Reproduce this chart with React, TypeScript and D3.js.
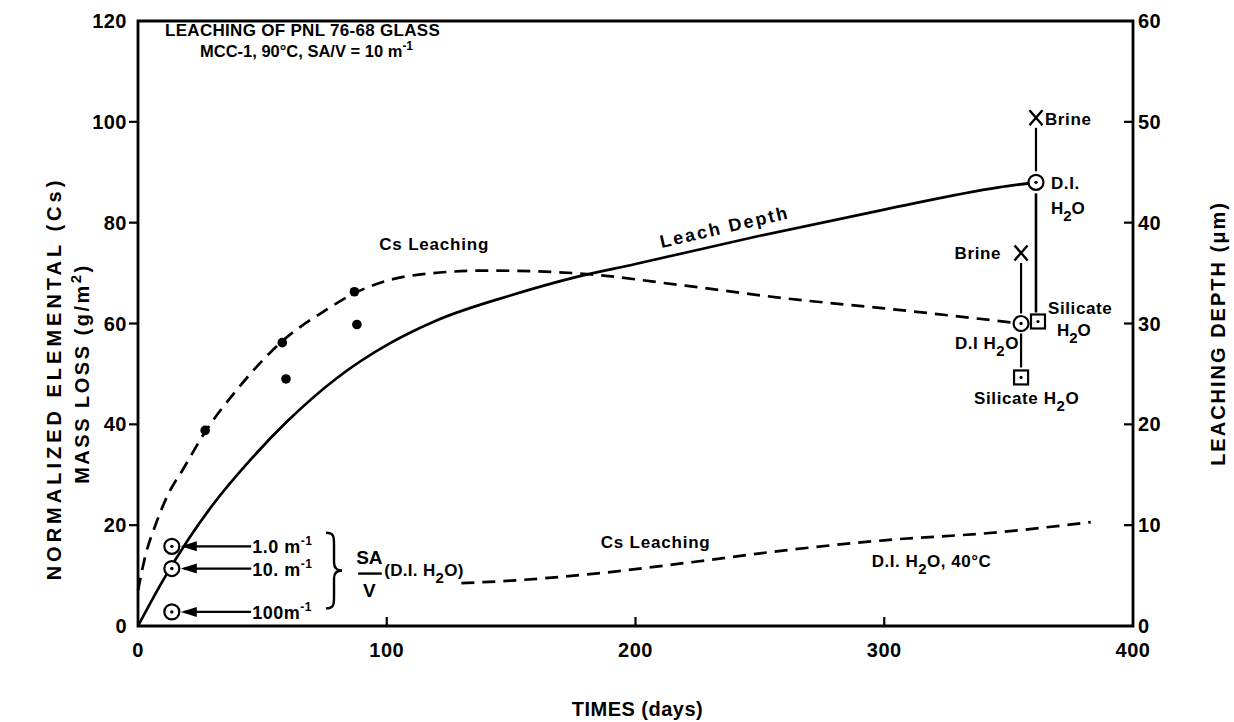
import React from 'react';
import * as d3 from 'd3';

// Cs leaching at 90C (normalized mass loss, g/m2) - dashed curve
const csDays90 = [0, 3, 7, 12, 18, 27, 40, 58, 75, 87, 110, 140, 175, 220, 260, 300, 355];
const csLoss90 = [7, 14, 20, 26, 31, 38.5, 47, 56.5, 62.5, 66, 69.5, 70.5, 70, 67.5, 65, 63, 60];

// measured Cs points
const dotDays = [27, 58, 59.5, 87, 88];
const dotLoss = [38.8, 56.2, 49, 66.3, 59.8];

// leach depth (um, right axis) - solid curve
const depthDays = [0, 10, 20, 30, 46, 60, 80, 101, 120, 150, 176, 200, 250, 300, 346, 361];
const depthUm = [0, 4.5, 8.5, 12, 16.7, 20.3, 24.6, 28, 30.3, 32.8, 34.6, 35.9, 38.7, 41.3, 43.5, 44];

// Cs leaching at 40C, D.I. H2O - lower dashed curve
const csDays40 = [130, 150, 186, 220, 260, 300, 346, 383];
const csLoss40 = [8.5, 9, 10.5, 12.5, 15, 17, 18.6, 20.6];

// SA/V points at ~14 days
const savLabels = ['1.0 m', '10. m', '100m'];
const savLoss = [15.8, 11.4, 2.8];
const savDay = 13.6;

// points at 355 days (Cs, left axis)
const csEndDay = 355;
const csBrine = 74;
const csDI = 60;
const csSilicate = 49.3;

// points at 361 days (depth, right axis)
const depthEndDay = 361;
const depthBrine = 50.4;
const depthDI = 44;
const depthSilicate = 30.2;

const xTicks = [0, 100, 200, 300, 400];
const yLeftTicks = [0, 20, 40, 60, 80, 100, 120];
const yRightTicks = [0, 10, 20, 30, 40, 50, 60];

const FONT = '"Liberation Sans", Arial, sans-serif';

const x = d3.scaleLinear().domain([0, 400]).range([138, 1133]);
const yL = d3.scaleLinear().domain([0, 120]).range([626, 21]);
const yR = d3.scaleLinear().domain([0, 60]).range([626, 21]);

const Sub = ({ children }: { children: string }) => (
  <tspan dy={7} fontSize={15}>{children}</tspan>
);

const DotCircle = ({ cx, cy }: { cx: number; cy: number }) => (
  <g>
    <circle cx={cx} cy={cy} r={7.5} fill="white" stroke="black" strokeWidth={2.2} />
    <circle cx={cx} cy={cy} r={1.7} fill="black" />
  </g>
);

const DotSquare = ({ cx, cy }: { cx: number; cy: number }) => (
  <g>
    <rect x={cx - 7} y={cy - 7} width={14} height={14} fill="white" stroke="black" strokeWidth={2.2} />
    <circle cx={cx} cy={cy} r={1.6} fill="black" />
  </g>
);

const Cross = ({ cx, cy }: { cx: number; cy: number }) => (
  <path
    d={`M${cx - 6.5},${cy - 7.5}L${cx + 6.5},${cy + 7.5}M${cx + 6.5},${cy - 7.5}L${cx - 6.5},${cy + 7.5}`}
    stroke="black"
    strokeWidth={2.4}
  />
);

export default function App() {
  const curve = d3.line<[number, number]>().curve(d3.curveMonotoneX);

  const cs90 = curve(csDays90.map((d, i) => [x(d), yL(csLoss90[i])]))!;
  const depth = curve(depthDays.map((d, i) => [x(d), yR(depthUm[i])]))!;
  const cs40 = curve(csDays40.map((d, i) => [x(d), yL(csLoss40[i])]))!;

  const x0 = x(0);
  const x1 = x(400);
  const y0 = yL(0);
  const y1 = yL(120);

  const sx = x(savDay);
  const ce = x(csEndDay);
  const de = x(depthEndDay);

  // brace spanning the three SA/V labels
  const bx = x(78);
  const bt = yL(18.5);
  const bb = yL(3.5);
  const bm = (bt + bb) / 2;
  const brace = `M${bx - 6},${bt} C${bx + 2},${bt} ${bx + 2},${bt + 4} ${bx + 2},${bt + 12} L${bx + 2},${bm - 8} C${bx + 2},${bm - 2} ${bx + 5},${bm} ${bx + 10},${bm} C${bx + 5},${bm} ${bx + 2},${bm + 2} ${bx + 2},${bm + 8} L${bx + 2},${bb - 12} C${bx + 2},${bb - 4} ${bx + 2},${bb} ${bx - 6},${bb}`;

  return (
    <svg width={1234} height={722} style={{ display: 'block', position: 'absolute', left: 0, top: 0 }} fontFamily={FONT} fontWeight="bold">
      <rect width={1234} height={722} fill="white" />

      {/* frame */}
      <path d={`M${x0},${y1}L${x1},${y1}L${x1},${y0}L${x0},${y0}Z`} fill="none" stroke="black" strokeWidth={2.8} />

      {/* left ticks (outward) */}
      {yLeftTicks.map(t => (
        <g key={'l' + t}>
          {t > 0 && t < 120 && <line x1={x0 - 9} x2={x0} y1={yL(t)} y2={yL(t)} stroke="black" strokeWidth={2.2} />}
          <text x={x0 - 11} y={yL(t) + 7} textAnchor="end" fontSize={20} letterSpacing={0.5}>{t}</text>
        </g>
      ))}

      {/* right ticks (inward) */}
      {yRightTicks.map(t => (
        <g key={'r' + t}>
          {t > 0 && t < 60 && <line x1={x1 - 9} x2={x1} y1={yR(t)} y2={yR(t)} stroke="black" strokeWidth={2.2} />}
          <text x={x1 + 5} y={yR(t) + 7} textAnchor="start" fontSize={20} letterSpacing={0.5}>{t}</text>
        </g>
      ))}

      {/* bottom ticks (inward) */}
      {xTicks.map(t => (
        <g key={'x' + t}>
          {t > 0 && t < 400 && <line x1={x(t)} x2={x(t)} y1={y0} y2={y0 - 9} stroke="black" strokeWidth={2.2} />}
          <text x={x(t)} y={y0 + 31} textAnchor="middle" fontSize={20} letterSpacing={0.5}>{t}</text>
        </g>
      ))}

      {/* axis titles */}
      <text transform={`translate(61,${(y0 + y1) / 2 + 55}) rotate(-90)`} textAnchor="middle" fontSize={20} letterSpacing={4}>
        NORMALIZED  ELEMENTAL  (Cs)
      </text>
      <text transform={`translate(89,${(y0 + y1) / 2 + 50}) rotate(-90)`} textAnchor="middle" fontSize={20} letterSpacing={2.5}>
        MASS  LOSS (g/m<tspan dy={-8} fontSize={15}>2</tspan><tspan dy={8}>)</tspan>
      </text>
      <text transform={`translate(1225,${(y0 + y1) / 2 + 10}) rotate(-90)`} textAnchor="middle" fontSize={20} letterSpacing={2}>
        LEACHING   DEPTH (μm)
      </text>
      <text x={(x0 + x1) / 2 + 2} y={716} textAnchor="middle" fontSize={20} letterSpacing={0.5}>TIMES (days)</text>

      {/* title */}
      <text x={165} y={36} fontSize={17} letterSpacing={0.3}>LEACHING OF PNL 76-68 GLASS</text>
      <text x={200} y={57} fontSize={16.5} letterSpacing={0}>
        MCC-1, 90°C, SA/V = 10 m<tspan dy={-7} fontSize={12}>-1</tspan>
      </text>

      {/* curves */}
      <path d={cs90} fill="none" stroke="black" strokeWidth={2.7} strokeDasharray="13 8" />
      <path d={depth} fill="none" stroke="black" strokeWidth={2.7} />
      <path d={cs40} fill="none" stroke="black" strokeWidth={2.7} strokeDasharray="13 8" />

      {/* measured dots */}
      {dotDays.map((d, i) => (
        <circle key={'d' + i} cx={x(d)} cy={yL(dotLoss[i])} r={4.8} fill="black" />
      ))}

      {/* curve labels */}
      <text x={x(97)} y={yL(74.5)} fontSize={17} letterSpacing={0.8}>Cs   Leaching</text>
      <text transform={`translate(${x(210.5)},${yL(75)}) rotate(-13)`} fontSize={18} letterSpacing={2.2}>Leach   Depth</text>
      <text x={x(186)} y={yL(15.4)} fontSize={17} letterSpacing={0.8}>Cs   Leaching</text>
      <text x={x(295)} y={yL(11.8)} fontSize={17} letterSpacing={0.5}>
        D.I.  H<Sub>2</Sub><tspan dy={-7}>O, 40°C</tspan>
      </text>

      {/* SA/V points at left */}
      {savLoss.map((v, i) => {
        const cy = yL(v);
        return (
          <g key={'s' + i}>
            <line x1={sx + 12} x2={x(45.5)} y1={cy} y2={cy} stroke="black" strokeWidth={2.2} />
            <path d={`M${sx + 9},${cy}L${sx + 25},${cy - 5}L${sx + 25},${cy + 5}Z`} fill="black" />
            <DotCircle cx={sx} cy={cy} />
            <text x={x(45.5) + 1} y={cy + 7} fontSize={18} letterSpacing={0.5}>
              {savLabels[i]}<tspan dy={-8} fontSize={12}>-1</tspan>
            </text>
          </g>
        );
      })}
      <path d={brace} fill="none" stroke="black" strokeWidth={2.4} />
      <text x={x(93)} y={yL(12.3)} fontSize={19} textAnchor="middle">SA</text>
      <line x1={x(88.5)} x2={x(98)} y1={yL(10.4)} y2={yL(10.4)} stroke="black" strokeWidth={2.4} />
      <text x={x(93)} y={yL(5.7)} fontSize={19} textAnchor="middle">V</text>
      <text x={x(99)} y={yL(10)} fontSize={17} letterSpacing={0.3}>
        (D.I. H<Sub>2</Sub><tspan dy={-7}>O)</tspan>
      </text>

      {/* right points at 355 days (Cs) */}
      <line x1={ce} x2={ce} y1={yL(csBrine) + 10} y2={yL(csDI) - 10} stroke="black" strokeWidth={2.2} />
      <line x1={ce} x2={ce} y1={yL(csDI) + 10} y2={yL(csSilicate) - 10} stroke="black" strokeWidth={2.2} />
      <Cross cx={ce} cy={yL(csBrine)} />
      <DotCircle cx={ce} cy={yL(csDI)} />
      <DotSquare cx={ce} cy={yL(csSilicate)} />
      <text x={ce - 20} y={yL(csBrine) + 6} textAnchor="end" fontSize={17} letterSpacing={0.6}>Brine</text>
      <text x={ce - 66} y={yL(csDI) + 25} fontSize={17} letterSpacing={0.5}>
        D.I  H<Sub>2</Sub><tspan dy={-7}>O</tspan>
      </text>
      <text x={ce - 47} y={yL(csSilicate) + 27} fontSize={17} letterSpacing={0.6}>
        Silicate   H<Sub>2</Sub><tspan dy={-7}>O</tspan>
      </text>

      {/* right points at 361 days (depth) */}
      <line x1={de} x2={de} y1={yR(depthBrine) + 10} y2={yR(depthDI) - 11} stroke="black" strokeWidth={2.2} />
      <line x1={de} x2={de} y1={yR(depthDI) + 11} y2={yR(depthSilicate) - 9} stroke="black" strokeWidth={2.6} />
      <Cross cx={de} cy={yR(depthBrine)} />
      <DotCircle cx={de} cy={yR(depthDI)} />
      <DotSquare cx={de + 2} cy={yR(depthSilicate)} />
      <text x={de + 9} y={yR(depthBrine) + 7} fontSize={17} letterSpacing={0.6}>Brine</text>
      <text x={de + 15} y={yR(depthDI) + 7} fontSize={17} letterSpacing={0.6}>D.I.</text>
      <text x={de + 15} y={yR(depthDI) + 32} fontSize={17}>
        H<Sub>2</Sub><tspan dy={-7}>O</tspan>
      </text>
      <text x={de + 12} y={yR(depthSilicate) - 7} fontSize={17} letterSpacing={0.6}>Silicate</text>
      <text x={de + 21} y={yR(depthSilicate) + 15} fontSize={17}>
        H<Sub>2</Sub><tspan dy={-7}>O</tspan>
      </text>
    </svg>
  );
}
